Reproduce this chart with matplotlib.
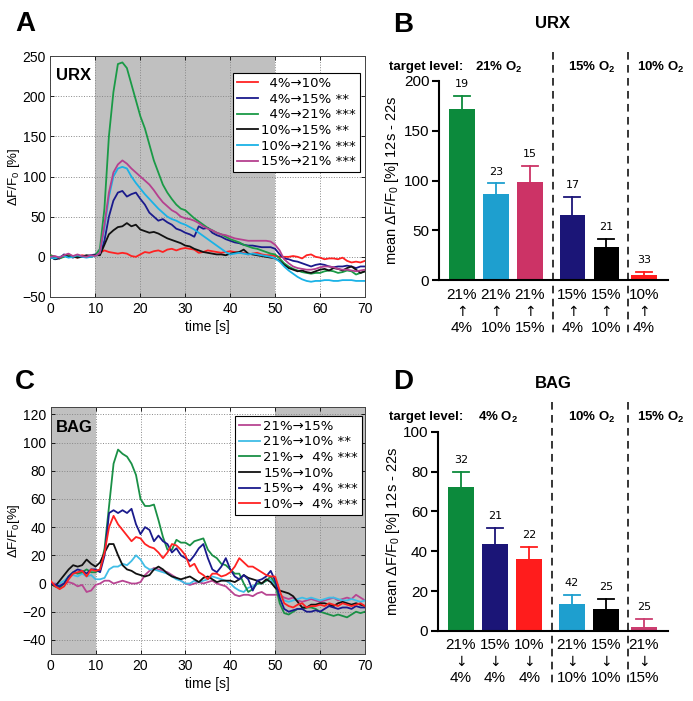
import matplotlib
matplotlib.use("Agg")
import matplotlib.pyplot as plt
from matplotlib.transforms import blended_transform_factory
import numpy as np

plt.rcParams['font.family'] = ['Liberation Sans', 'DejaVu Sans']
plt.rcParams['mathtext.fontset'] = 'custom'
plt.rcParams['mathtext.rm'] = 'Liberation Sans'
plt.rcParams['mathtext.bf'] = 'Liberation Sans:bold'
plt.rcParams['mathtext.it'] = 'Liberation Sans:italic'

# ---- data -------------------------------------------------------------
t = list(range(71))

# panel A, URX traces (dF/F0 %)
urx_4_10 = [2, 0, -2, 1, 3, 0, -1, 2, 1, 0, 2, 5, 8, 6, 5, 4, 5, 4, 1, 0, 3,
            6, 5, 7, 8, 6, 9, 10, 8, 10, 11, 10, 9, 5, 6, 8, 7, 6, 5, 6, 7,
            6, 5, 5, 3, 4, 5, 3, 2, 2, 1, 0, 0, 0, 1, 0, -2, 2, 3, 0, -1,
            -3, -2, -2, -3, -1, -5, -7, -6, -7, -5]
urx_4_15 = [0, -3, -2, 3, 1, -1, 2, 0, 1, 2, 3, 3, 20, 50, 70, 80, 82, 75, 78, 80, 72,
            65, 55, 50, 45, 47, 43, 40, 35, 33, 30, 28, 25, 38, 35, 36, 30, 27, 25, 22, 20,
            18, 17, 15, 14, 14, 13, 12, 12, 12, 10, 3, -2, -3, -5, -6, -8, -10, -12, -10, -9,
            -10, -12, -13, -12, -12, -11, -12, -14, -12, -12]
urx_4_21 = [2, 0, -2, 0, 2, 0, 0, 1, 0, 0, 2, 10, 60, 150, 205, 240, 242, 235, 215, 195, 175,
            160, 140, 120, 105, 90, 80, 72, 65, 60, 58, 53, 48, 44, 40, 36, 33, 30, 28, 25, 22,
            20, 18, 15, 13, 11, 10, 8, 6, 4, 3, -2, -8, -12, -15, -17, -19, -20, -21, -20, -20,
            -18, -17, -18, -20, -19, -17, -18, -22, -20, -18]
urx_10_15 = [0, -3, -1, 2, 0, 1, -1, 0, 2, 1, 2, 2, 15, 28, 33, 37, 38, 42, 38, 40, 34,
             32, 30, 31, 29, 26, 23, 21, 19, 17, 14, 13, 10, 8, 6, 5, 4, 3, 3, 2, 4,
             5, 6, 9, 4, 3, 2, 1, 0, -1, -2, -5, -10, -14, -16, -18, -17, -19, -20, -18, -16,
             -15, -17, -14, -15, -17, -14, -12, -16, -20, -18]
urx_10_21 = [-1, -2, 0, 1, -1, 0, 2, 0, -1, 0, 1, 5, 35, 75, 100, 110, 112, 110, 100, 92, 85,
             78, 72, 66, 60, 55, 50, 47, 45, 42, 40, 37, 34, 30, 26, 22, 18, 14, 10, 6, 3,
             4, 5, 4, 3, 4, 3, 2, 1, 0, -2, -6, -12, -17, -21, -25, -28, -30, -31, -30, -30,
             -29, -29, -30, -30, -29, -29, -29, -30, -30, -30]
urx_15_21 = [0, 1, -1, 2, 4, 1, 3, 1, 0, 2, 1, 5, 40, 80, 105, 115, 120, 116, 110, 105, 100,
             95, 90, 83, 75, 68, 63, 58, 55, 50, 48, 47, 45, 42, 38, 35, 33, 30, 28, 27, 25,
             23, 22, 21, 20, 20, 20, 20, 20, 19, 15, 8, -3, -8, -12, -14, -15, -16, -16, -15, -13,
             -12, -12, -13, -15, -16, -16, -17, -18, -17, -16]
urx_traces = [urx_4_10, urx_4_15, urx_4_21, urx_10_15, urx_10_21, urx_15_21]
urx_labels = ['  4%\u219210%', '  4%\u219215% **', '  4%\u219221% ***',
              '10%\u219215% **', '10%\u219221% ***', '15%\u219221% ***']
urx_colors = ['#ff2222', '#1a1a8c', '#1a9a46', '#111111', '#1ab2e6', '#b5408f']

# panel C, BAG traces
bag_21_15 = [0, 0, -1, 0, 1, 0, -2, -1, -6, -5, -1, 0, 2, 2, 0, 1, 2, 1, 0, 0, 1,
             6, 9, 11, 10, 9, 8, 6, 4, 2, 0, -1, 0, 1, 0, 1, 2, 0, -1, -2, -5,
             -8, -9, -8, -8, -9, -7, -6, -8, -8, -8, -8, -10, -11, -10, -12, -13, -12, -11, -12, -13,
             -12, -11, -10, -12, -11, -10, -11, -8, -10, -12]
bag_21_10 = [0, -1, 0, 2, 5, 6, 5, 7, 5, 6, 3, 3, 4, 10, 12, 12, 14, 13, 16, 20, 17,
             12, 10, 10, 9, 8, 7, 5, 3, 2, 0, 0, 2, 1, 2, 3, 5, 4, 3, 2, 0,
             -3, -5, -6, -3, -2, 0, 0, 2, 3, -2, -8, -12, -13, -12, -11, -10, -11, -10, -11, -12,
             -11, -10, -10, -11, -12, -12, -11, -12, -13, -12]
bag_21_4 = [0, -2, -3, 0, 5, 8, 7, 8, 10, 8, 8, 10, 25, 55, 85, 95, 92, 90, 85, 77, 60,
            55, 55, 56, 45, 33, 24, 24, 31, 29, 29, 27, 30, 31, 32, 24, 20, 18, 14, 13, 10,
            7, 7, 0, -6, -4, 0, 0, 2, 5, 0, -14, -21, -22, -20, -18, -18, -17, -17, -18, -20,
            -21, -22, -23, -22, -23, -24, -22, -20, -21, -20]
bag_15_10 = [0, -2, 2, 6, 10, 13, 12, 13, 17, 14, 12, 15, 22, 28, 28, 20, 13, 10, 9, 7, 6,
             5, 6, 10, 12, 10, 7, 5, 4, 3, 4, 5, 3, 1, 4, 5, 3, 1, 2, 2, 2,
             1, 3, 6, 4, 3, 2, 0, 3, 1, -3, -5, -6, -7, -9, -13, -17, -17, -15, -15, -14,
             -14, -15, -16, -14, -13, -14, -15, -14, -15, -16]
bag_15_4 = [0, -1, -2, 0, 5, 8, 10, 9, 7, 10, 10, 8, 20, 50, 52, 50, 52, 50, 53, 42, 35,
            40, 38, 30, 34, 30, 28, 22, 25, 20, 18, 16, 20, 25, 28, 18, 10, 8, 12, 18, 10,
            5, 3, 6, 3, -5, 2, 3, 5, 9, 2, -10, -18, -20, -19, -18, -18, -20, -20, -19, -20,
            -18, -16, -17, -18, -17, -17, -18, -16, -17, -17]
bag_10_4 = [2, -2, -4, -2, 3, 7, 8, 9, 5, 10, 9, 10, 22, 40, 48, 42, 38, 34, 30, 33, 32,
            28, 26, 25, 22, 18, 22, 28, 27, 24, 20, 12, 14, 8, 6, 3, 7, 7, 5, 6, 8,
            12, 18, 15, 12, 12, 10, 8, 6, 5, 5, -5, -14, -16, -17, -15, -14, -17, -16, -16, -15,
            -16, -14, -15, -16, -14, -15, -16, -15, -14, -16]
bag_traces = [bag_21_15, bag_21_10, bag_21_4, bag_15_10, bag_15_4, bag_10_4]
bag_labels = ['21%\u219215%', '21%\u219210% **', '21%\u2192  4% ***',
              '15%\u219210%', '15%\u2192  4% ***', '10%\u2192  4% ***']
bag_colors = ['#b84592', '#40bde6', '#1a9046', '#111111', '#1a1a8c', '#ff2222']

# panel B, URX means
urx_bar_means = [172, 86, 98, 65, 33, 5]
urx_bar_err = [13, 11, 17, 18, 8, 3]
urx_bar_n = ['19', '23', '15', '17', '21', '33']
urx_bar_from = ['4%', '10%', '15%', '4%', '10%', '4%']
urx_bar_to = ['21%', '21%', '21%', '15%', '15%', '10%']
urx_bar_colors = ['#0c8a3c', '#1e9fcf', '#cc3366', '#1b1577', '#000000', '#ff1c1c']
urx_groups = ['21%', '15%', '10%']

# panel D, BAG means
bag_bar_means = [72.5, 43.5, 36, 13.5, 11, 2]
bag_bar_err = [7.5, 8, 6, 4.5, 5, 4]
bag_bar_n = ['32', '21', '22', '42', '25', '25']
bag_bar_from = ['21%', '15%', '10%', '21%', '15%', '21%']
bag_bar_to = ['4%', '4%', '4%', '10%', '10%', '15%']
bag_bar_colors = ['#0c8a3c', '#1b1577', '#ff1c1c', '#1e9fcf', '#000000', '#cc3d70']
bag_groups = ['4%', '10%', '15%']

bar_x = [0, 1, 2, 3.25, 4.25, 5.35]
sep_x = [2.67, 4.89]
bar_w = 0.76
cap_w = 0.47

W, H = 693, 701
fig = plt.figure(figsize=(W / 100, H / 100), dpi=100)


def px_axes(l, r, top, bot):
    return fig.add_axes([l / W, 1 - bot / H, (r - l) / W, (bot - top) / H])


def trace_panel(ax, traces, labels, colors, shade, ylim, yticks, name, ylab, leg_anchor):
    for a, b in shade:
        ax.axvspan(a, b, color='#c0c0c0', lw=0, zorder=0)
    for y, lab, c in zip(traces, labels, colors):
        ax.plot(t, y, color=c, lw=1.3, label=lab, zorder=3)
    ax.set_xlim(0, 70)
    ax.set_ylim(*ylim)
    ax.set_xticks(range(0, 71, 10))
    ax.set_yticks(yticks)
    ax.grid(True, ls=':', color='#888888', lw=0.7, zorder=1)
    ax.set_axisbelow(True)
    ax.tick_params(direction='in', top=True, right=True, length=3, labelsize=10, width=0.6)
    for s in ax.spines.values():
        s.set_linewidth(0.7)
        s.set_color('#444444')
    ax.set_xlabel('time [s]', fontsize=10, labelpad=3)
    ax.set_ylabel(ylab, fontsize=9.5)
    ax.yaxis.set_label_coords(-0.09, 0.5)
    ax.text(0.018, 0.92, name, transform=ax.transAxes, fontsize=12, fontweight='bold',
            va='center', ha='left', zorder=5)
    leg = ax.legend(loc='upper right', bbox_to_anchor=leg_anchor, fancybox=False,
                    framealpha=1, edgecolor='black', handlelength=1.6, handletextpad=0.25,
                    labelspacing=0.2, borderpad=0.3, borderaxespad=0,
                    prop={'family': 'DejaVu Sans', 'size': 9.5})
    leg.get_frame().set_linewidth(0.8)
    leg.set_zorder(6)


def bar_panel(ax, means, errs, ns, frm, to, colors, up, ylim, yticks, ytop, ybot, rows, labx):
    tr = blended_transform_factory(ax.transData, fig.transFigure)
    for x, m, e, n, c in zip(bar_x, means, errs, ns, colors):
        ax.bar(x, m, width=bar_w, color=c, zorder=2)
        ax.plot([x, x], [m, m + e], color=c, lw=1.3, zorder=3)
        ax.plot([x - cap_w / 2, x + cap_w / 2], [m + e, m + e], color=c, lw=1.3, zorder=3)
        ax.annotate(n, (x, m + e), xytext=(0, 5), textcoords='offset points',
                    ha='center', va='bottom', fontsize=8, family='DejaVu Sans')
    for x, a, b in zip(bar_x, frm, to):
        top_lab, bot_lab = (b, a) if up else (a, b)
        arrow = '\u2191' if up else '\u2193'
        ax.text(x, rows[0], top_lab, transform=tr, ha='center', va='center', fontsize=11)
        ax.text(x, rows[1], arrow, transform=tr, ha='center', va='center', fontsize=10,
                family='DejaVu Sans')
        ax.text(x, rows[2], bot_lab, transform=tr, ha='center', va='center', fontsize=11)
    for sx in sep_x:
        ax.plot([sx, sx], [ytop, ybot], transform=tr, color='black', lw=1.1,
                dashes=(5, 3.5), clip_on=False)
    ax.set_xlim(-0.676, 6.06)
    ax.set_ylim(*ylim)
    ax.set_yticks(yticks)
    ax.set_xticks([])
    ax.spines['top'].set_visible(False)
    ax.spines['right'].set_visible(False)
    ax.spines['left'].set_linewidth(1.5)
    ax.spines['bottom'].set_linewidth(1.5)
    ax.tick_params(axis='y', direction='out', length=5, width=1.5, labelsize=11, pad=2)
    ax.set_ylabel('mean \u0394F/F$_0$ [%] 12s - 22s', fontsize=10.5)
    ax.yaxis.set_label_coords(labx, 0.5)


axA = px_axes(50.5, 365, 56, 297)
trace_panel(axA, urx_traces, urx_labels, urx_colors, [(10, 50)], (-50, 250),
            range(-50, 251, 50), 'URX', '\u0394F/F$_0$ [%]', (0.984, 0.929))

axC = px_axes(50.7, 365, 407.3, 654)
trace_panel(axC, bag_traces, bag_labels, bag_colors, [(0, 10), (50, 70)], (-50, 125),
            range(-40, 121, 20), 'BAG', '\u0394F/F$_0$[%]', (0.99, 0.966))

axB = px_axes(439, 668, 81, 280)
bar_panel(axB, urx_bar_means, urx_bar_err, urx_bar_n, urx_bar_from, urx_bar_to,
          urx_bar_colors, True, (0, 200), range(0, 201, 50),
          1 - 52 / H, 1 - 333 / H, [1 - 295 / H, 1 - 312 / H, 1 - 328 / H], -0.165)

axD = px_axes(437.7, 668, 431.7, 631)
bar_panel(axD, bag_bar_means, bag_bar_err, bag_bar_n, bag_bar_from, bag_bar_to,
          bag_bar_colors, False, (0, 100), range(0, 101, 20),
          1 - 402 / H, 1 - 683 / H, [1 - 645 / H, 1 - 662 / H, 1 - 678 / H], -0.156)

# group headings above bar panels
for grp, yc, x0 in [(urx_groups, 67, 475), (bag_groups, 417, 478)]:
    fig.text(389 / W, 1 - yc / H, 'target level:', fontsize=9.5, fontweight='bold',
             ha='left', va='center')
    for lab, xl in zip(grp, [x0, 568, 637]):
        fig.text(xl / W, 1 - yc / H, r'$\mathbf{' + lab.replace('%', r'\%') + r'\ O_2}$',
                 fontsize=9.5, ha='left', va='center')

# panel letters and titles
for letter, x, y in [('A', 15, 24), ('B', 393, 25), ('C', 15, 382), ('D', 393, 382)]:
    fig.text(x / W, 1 - y / H, letter, fontsize=20, fontweight='bold', ha='left', va='center')
fig.text(553 / W, 1 - 23 / H, 'URX', fontsize=12, fontweight='bold', ha='center', va='center')
fig.text(553 / W, 1 - 383 / H, 'BAG', fontsize=12, fontweight='bold', ha='center', va='center')

fig.savefig('out.png', dpi=100)
